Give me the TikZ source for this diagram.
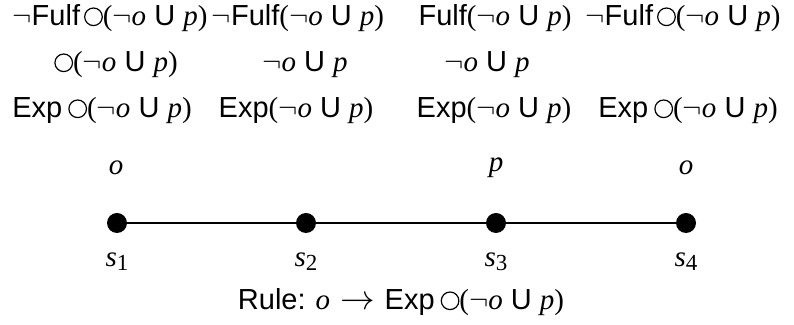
\documentclass[tikz,border=0pt]{standalone}
\usepackage{fontspec}
\setmainfont{Liberation Sans}
\newfontfamily\tms{Liberation Serif}
\usetikzlibrary{positioning}

\newcommand{\vo}{{\tms\itshape o}}
\newcommand{\vp}{{\tms\itshape p}}
\newcommand{\ngt}{$\neg$}
\newcommand{\nxt}{\tikz[baseline=0pt]\draw[line width=0.6pt] (0pt,4.6pt) circle (4.4pt);}
\newcommand{\untl}{{\tms(}\ngt\vo\ U\ \vp{\tms)}}
\newcommand{\st}[1]{{\tms\itshape s}\raisebox{-2pt}{\tms\fontsize{11.5}{10}\selectfont #1}}

\begin{document}
\begin{tikzpicture}[
    x=0.5pt, y=-0.5pt,
    every node/.style={inner sep=0pt, font=\fontsize{14.5}{17}\selectfont},
    lab/.style={anchor=base},
    state/.style={circle, fill=black, minimum size=10pt},
    track/.style={line width=1.45pt}
]
\useasboundingbox (0,0) rectangle (794,325);

% fulfilment row
\node[lab] (f1) at (110,26) {\ngt Fulf\hspace{2pt}\nxt\untl};
\node[lab] (f2) at (298,26) {\ngt Fulf\untl};
\node[lab] (f3) at (495,26) {Fulf\untl};
\node[lab] (f4) at (683,26) {\ngt Fulf\hspace{2pt}\nxt\untl};

% formulas
\node[lab] (g1) at (116,72) {\nxt\untl};
\node[lab] (g2) at (305,72) {\ngt\vo\ U\ \vp};
\node[lab] (g3) at (487,72) {\ngt\vo\ U\ \vp};

% expectations
\node[lab] (e1) at (102,118) {Exp\hspace{3pt}\nxt\untl};
\node[lab] (e2) at (296,118) {Exp\untl};
\node[lab] (e3) at (494,118) {Exp\untl};
\node[lab] (e4) at (688,118) {Exp\hspace{3pt}\nxt\untl};

% states
\node[state] (s1) at (117,223) {};
\node[state] (s2) at (306,223) {};
\node[state] (s3) at (496,223) {};
\node[state] (s4) at (686,223) {};

\node[lab] (a1) at (116,175) {\vo};
\node[lab] (a3) at (496,172) {\vp};
\node[lab] (a4) at (686,175) {\vo};

\node[lab] (l1) at (117,267) {\st{1}};
\node[lab] (l2) at (306,267) {\st{2}};
\node[lab] (l3) at (496,267) {\st{3}};
\node[lab] (l4) at (686,267) {\st{4}};

\node[lab] (rule) at (401,310) {Rule:\hspace{5pt}\vo\hspace{5pt}{\fontsize{16.5}{17}\selectfont$\rightarrow$}\hspace{5pt}Exp\hspace{3pt}\nxt\untl};

\foreach \a/\b in {s1/s2, s2/s3, s3/s4}
    \draw[track] (\a) -- (\b);
\end{tikzpicture}
\end{document}
